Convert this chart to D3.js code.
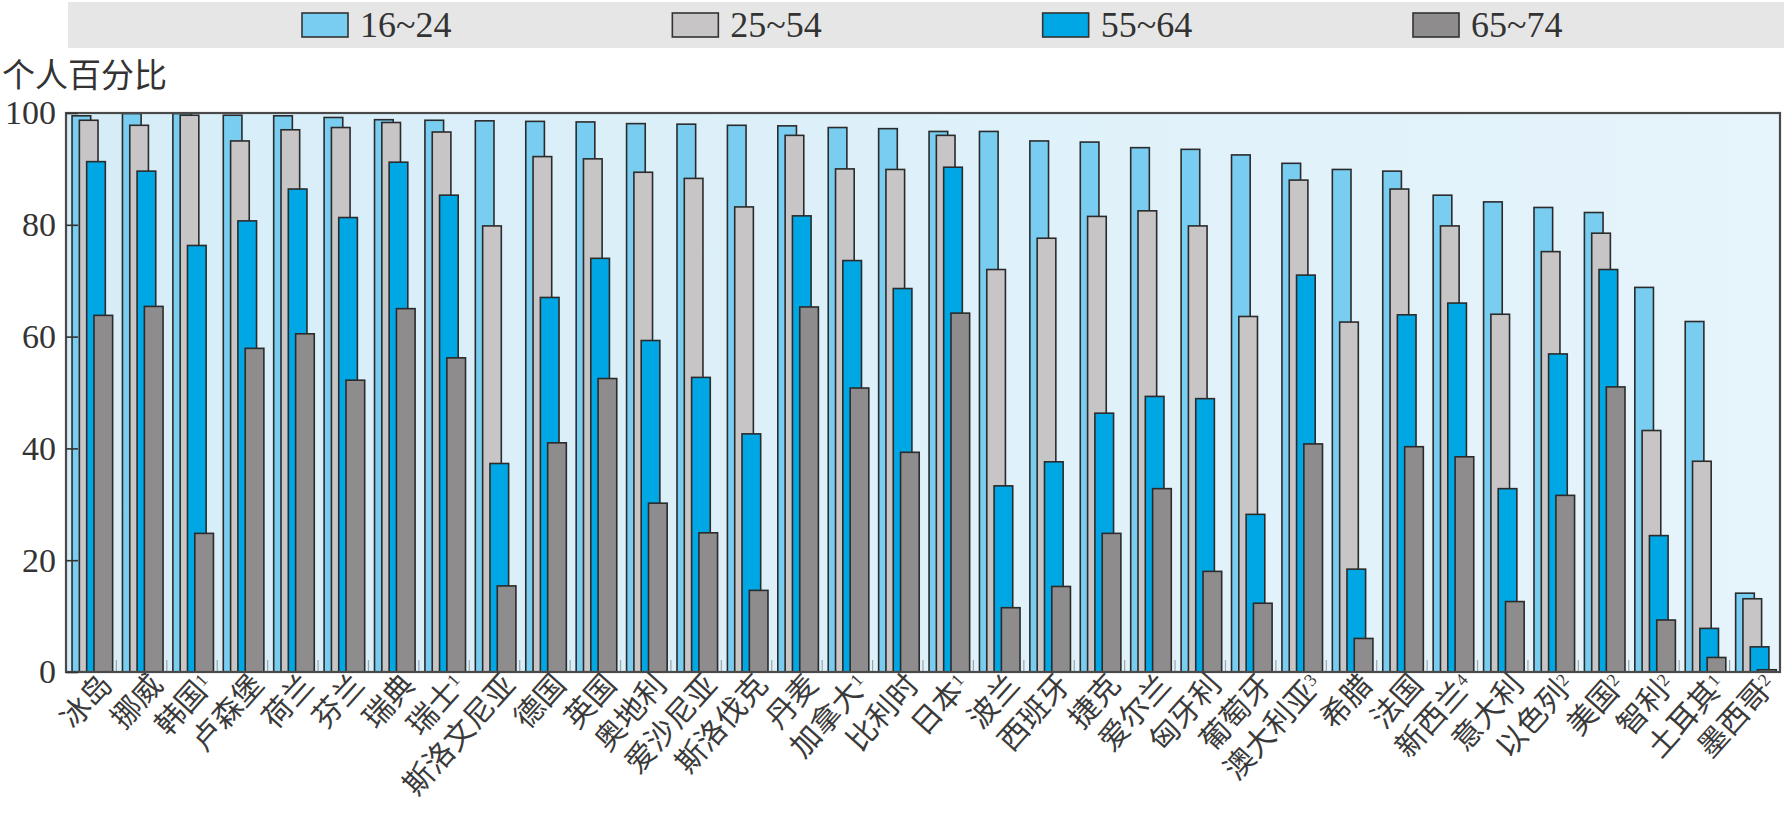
<!DOCTYPE html>
<html><head><meta charset="utf-8">
<script src="https://cdn.jsdelivr.net/npm/d3@7"></script>
<style>
body{margin:0;background:#fff}
svg text{font-family:"Liberation Serif","DejaVu Serif",serif}
.cjk{font-family:"Noto Sans CJK SC","Noto Sans",sans-serif}
</style></head><body>
<svg id="chart" width="1784" height="822"></svg>
<script>
const categories = ["冰岛","挪威","韩国","卢森堡","荷兰","芬兰","瑞典","瑞士","斯洛文尼亚","德国","英国","奥地利","爱沙尼亚","斯洛伐克","丹麦","加拿大","比利时","日本","波兰","西班牙","捷克","爱尔兰","匈牙利","葡萄牙","澳大利亚","希腊","法国","新西兰","意大利","以色列","美国","智利","土耳其","墨西哥"];
const notes = ["","","1","","","","","1","","","","","","","","1","","1","","","","","","","3","","","4","","2","2","2","1","2"];
const seriesNames = ["16~24","25~54","55~64","65~74"];
const age16_24 = [99.5,99.9,99.9,99.6,99.5,99.2,98.8,98.7,98.6,98.5,98.4,98.1,98.0,97.8,97.7,97.4,97.2,96.7,96.7,95.0,94.8,93.8,93.5,92.5,91.0,89.9,89.6,85.3,84.1,83.1,82.2,68.8,62.7,14.1];
const age25_54 = [98.7,97.8,99.6,95.0,97.0,97.4,98.3,96.6,79.8,92.2,91.8,89.4,88.3,83.2,96.0,90.0,89.9,96.0,72.0,77.6,81.5,82.5,79.8,63.6,88.0,62.6,86.4,79.8,64.0,75.2,78.5,43.2,37.7,13.1];
const age55_64 = [91.3,89.6,76.3,80.7,86.4,81.3,91.2,85.3,37.3,67.0,74.0,59.3,52.7,42.6,81.6,73.6,68.6,90.3,33.3,37.6,46.3,49.3,48.9,28.2,71.0,18.4,63.9,66.0,32.8,56.9,72.0,24.4,7.8,4.5];
const age65_74 = [63.8,65.4,24.8,57.9,60.5,52.2,65.0,56.2,15.4,41.0,52.5,30.2,24.9,14.6,65.3,50.8,39.3,64.2,11.5,15.3,24.8,32.8,18.0,12.3,40.8,6.0,40.3,38.5,12.6,31.6,51.0,9.3,2.6,0.4];
const yTicks = [0,20,40,60,80,100];
const yTitle = "个人百分比";

const series = [age16_24, age25_54, age55_64, age65_74];
const colors = ["#79cdf0","#c7c5c5","#00a7e5","#8e8c8c"];

const svg = d3.select("#chart");
const L = 66, R = 1780, T = 113, B = 672;

const x = d3.scaleBand().domain(categories).range([L, R]).paddingInner(0).paddingOuter(0);
const sub = d3.scaleLinear().domain([0, 3]).range([x.bandwidth()*0.12, x.bandwidth()*0.555]);
const barW = x.bandwidth()*0.37;
const y = d3.scaleLinear().domain([0, 100]).range([B, T]);

// legend band
svg.append("rect").attr("x", 68).attr("y", 2).attr("width", 1716).attr("height", 46).attr("fill", "#e6e6e6");
const legX = d3.scalePoint().domain(seriesNames).range([302, 1413]);
const leg = svg.append("g").selectAll("g").data(seriesNames).join("g")
  .attr("transform", d => `translate(${legX(d)},13)`);
leg.append("rect").attr("width", 46).attr("height", 24).attr("fill", (d,i) => colors[i])
  .attr("stroke", "#333").attr("stroke-width", 1.6);
leg.append("text").attr("x", 58).attr("y", 24).attr("font-size", 36).attr("fill", "#333").text(d => d);

// y title
svg.append("text").attr("class", "cjk").attr("x", 2).attr("y", 87).attr("font-size", 33).attr("fill", "#333").text(yTitle);

// plot background
const defs = svg.append("defs");
const grad = defs.append("linearGradient").attr("id", "bg").attr("x1", "0").attr("x2", "1").attr("y1", "0").attr("y2", "0");
grad.append("stop").attr("offset", "0").attr("stop-color", "#d6edf8");
grad.append("stop").attr("offset", "1").attr("stop-color", "#e6f4fb");
svg.append("rect").attr("x", L).attr("y", T).attr("width", R - L).attr("height", B - T).attr("fill", "url(#bg)");

// small category separator ticks at bottom
svg.append("g").selectAll("line").data(categories.slice(1)).join("line")
  .attr("x1", d => x(d)).attr("x2", d => x(d))
  .attr("y1", B).attr("y2", B - 12).attr("stroke", "#9aa4a8").attr("stroke-width", 1.2);

// bars
series.forEach((vals, si) => {
  svg.append("g").selectAll("rect").data(categories).join("rect")
    .attr("x", d => x(d) + sub(si))
    .attr("y", (d, i) => y(vals[i]))
    .attr("width", barW)
    .attr("height", (d, i) => B - y(vals[i]))
    .attr("fill", colors[si])
    .attr("stroke", "#2b2b2b").attr("stroke-width", 1.6);
});

// frame
svg.append("rect").attr("x", L).attr("y", T).attr("width", R - L).attr("height", B - T)
  .attr("fill", "none").attr("stroke", "#4a4a4a").attr("stroke-width", 2.2);

// y axis
const yAxis = d3.axisLeft(y).tickValues(yTicks).tickSizeInner(-12).tickSizeOuter(0).tickPadding(24);
const ya = svg.append("g").attr("transform", `translate(${L},0)`).call(yAxis);
ya.select(".domain").remove();
ya.selectAll(".tick line").attr("stroke", "#333").attr("stroke-width", 1.6);
ya.selectAll(".tick text").attr("font-size", 34).attr("fill", "#333")
  .attr("font-family", "Liberation Serif, serif").attr("x", -10);

// x labels
const xl = svg.append("g").selectAll("text").data(categories).join("text")
  .attr("class", "cjk")
  .attr("transform", d => `translate(${x(d) + x.bandwidth()*0.95},${B + 14}) rotate(-48)`)
  .attr("text-anchor", "end")
  .attr("font-size", 30).attr("fill", "#3a3a3a");
xl.each(function(d, i) {
  const t = d3.select(this);
  t.append("tspan").text(d);
  if (notes[i]) t.append("tspan").attr("dy", "-0.45em").attr("font-size", 18)
    .attr("font-family", "Liberation Serif, serif").text(notes[i]);
});
</script>
</body></html>
